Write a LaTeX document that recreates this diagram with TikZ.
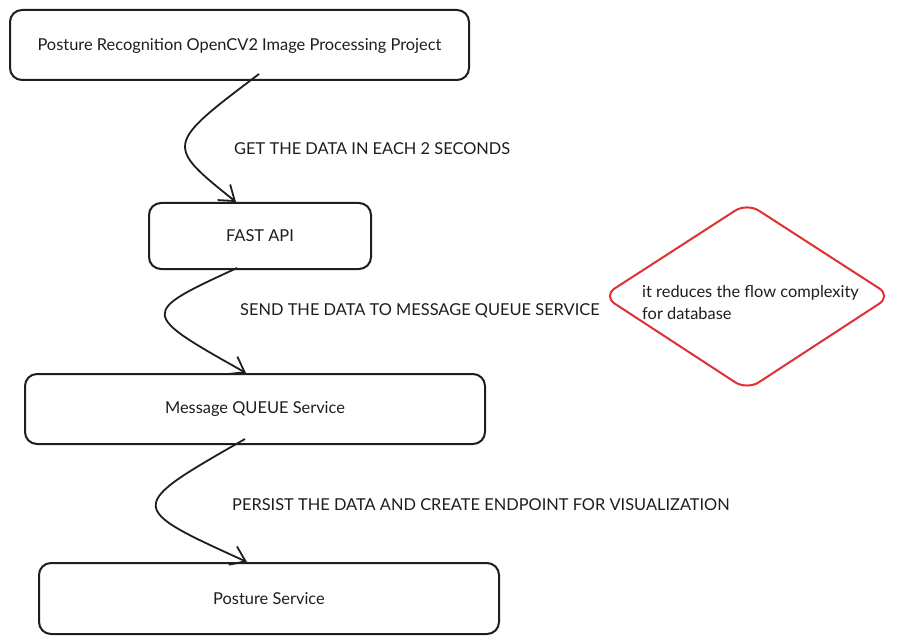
\documentclass[tikz,border=0pt]{standalone}
\usepackage{fontspec}
\setmainfont{Lato}
\usetikzlibrary{arrows.meta,shapes.geometric}
\definecolor{ink}{HTML}{1E1E1E}
\definecolor{redline}{HTML}{E03131}
\tikzset{
  box/.style={draw=ink, line width=2pt, rounded corners=12pt, inner sep=0pt, font=\fontsize{16.4}{22}\selectfont, text=ink},
  lbl/.style={anchor=west, inner sep=0pt, font=\fontsize{16.4}{22}\selectfont, text=ink},
  arr/.style={draw=ink, line width=1.8pt, -{Straight Barb[length=14pt,width=20pt,line width=1.8pt]}},
}
\begin{document}
\begin{tikzpicture}[x=1pt,y=-1pt]
\useasboundingbox (0,0) rectangle (904,644);
\fill[white] (0,0) rectangle (904,644);
\node[box, minimum width=459pt, minimum height=70pt, text depth=2pt] (proj) at (239.5,45) {Posture Recognition OpenCV2 Image Processing Project};
\node[box, minimum width=222pt, minimum height=66pt] (fast) at (260,236) {FAST API};
\node[box, minimum width=460pt, minimum height=70pt] (mq) at (255,409) {Message QUEUE Service};
\node[box, minimum width=460pt, minimum height=71pt] (ps) at (269,598.5) {Posture Service};
\draw[redline, line width=2pt, rounded corners=14pt] (603,296) coordinate (dl) -- (747,203) -- (891,296) -- (747,390) -- cycle;
\node[lbl, align=left, anchor=west] (note) at (642,303) {it reduces the flow complexity\\for database};
\draw[arr] ([xshift=19.5pt,yshift=7pt]proj.south) .. controls (165,145) and (165,145) .. ([xshift=-24pt]fast.north);
\node[lbl] (l1) at (234,149) {GET THE DATA IN EACH 2 SECONDS};
\draw[arr] ([xshift=-23pt,yshift=2pt]fast.south) .. controls (139.5,313) and (139.5,313) .. ([xshift=-9pt]mq.north);
\node[lbl] (l2) at (240,311) {SEND THE DATA TO MESSAGE QUEUE SERVICE};
\draw[arr] ([xshift=-10pt,yshift=6pt]mq.south) .. controls (126,507) and (126,507) .. ([xshift=-22pt]ps.north);
\node[lbl] (l3) at (232,505) {PERSIST THE DATA AND CREATE ENDPOINT FOR VISUALIZATION};
\end{tikzpicture}
\end{document}
